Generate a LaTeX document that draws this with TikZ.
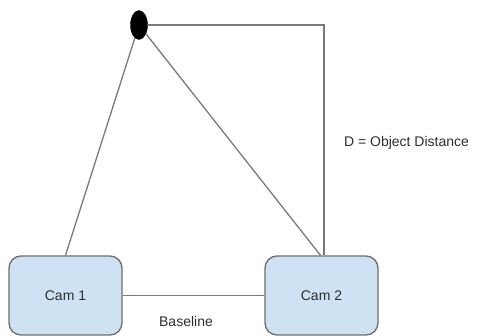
\documentclass[tikz,border=0pt]{standalone}
\usepackage{fontspec}
\setmainfont{Liberation Sans}
\usetikzlibrary{shapes.geometric}
\definecolor{camfill}{HTML}{CFE2F3}
\definecolor{camedge}{HTML}{6E6E6E}
\definecolor{wire}{HTML}{7A7A7A}
\definecolor{ink}{HTML}{2E2E2E}
\begin{document}
\begin{tikzpicture}[x=1pt,y=-1pt,
  cambox/.style={draw=camedge,fill=camfill,line width=1.3pt,rounded corners=12pt,
    minimum width=113pt,minimum height=79pt,inner sep=0pt,
    font=\fontsize{14}{16}\selectfont,text=ink},
  target/.style={ellipse,fill=black,draw=black,minimum width=17pt,minimum height=29pt,inner sep=0pt},
  link/.style={draw=wire,line width=1.3pt},
  caption/.style={font=\fontsize{14}{16}\selectfont,text=ink,inner sep=0pt}]
  \useasboundingbox (0,0) rectangle (477,336);
  % cameras and the observed object
  \node[cambox] (cam1) at (65.5,295.5) {Cam 1};
  \node[cambox] (cam2) at (321.5,295.5) {Cam 2};
  \node[target] (obj) at (139,25) {};
  \coordinate (corner) at (324,25);
  % sight lines
  \draw[link] (obj) -- (cam1.north);
  \draw[link] (obj) -- ([xshift=-1pt]cam2.north);
  % distance leg
  \draw[link] (obj.east) -- (corner) -- (corner |- cam2.north);
  % baseline between the cameras
  \draw[link] (cam1.east) -- (cam2.west);
  \node[caption] (base) at (186,321) {Baseline};
  \node[caption] (dist) at (406.5,143) {D = Object Distance};
\end{tikzpicture}
\end{document}
